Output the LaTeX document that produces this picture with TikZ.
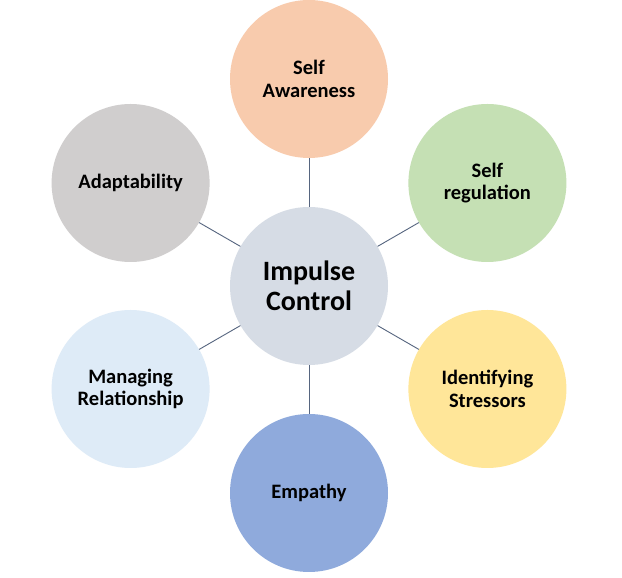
\documentclass[tikz,border=0pt]{standalone}
\usepackage{fontspec}
\setmainfont{Carlito}
\usepackage{xcolor}
\usepackage{tikz}
\usetikzlibrary{positioning}

\definecolor{corefill}{HTML}{D6DCE5}
\definecolor{awarefill}{HTML}{F8CBAD}
\definecolor{regfill}{HTML}{C5E0B4}
\definecolor{stressfill}{HTML}{FFE699}
\definecolor{empfill}{HTML}{8FAADC}
\definecolor{relfill}{HTML}{DEEBF7}
\definecolor{adaptfill}{HTML}{D0CECE}
\definecolor{linkgray}{HTML}{56657F}

\begin{document}
\begin{tikzpicture}[
  bubble/.style={circle, minimum size=158pt, inner sep=0pt, align=center, font=\fontsize{20.5}{22.5}\selectfont\bfseries},
  link/.style={draw=linkgray, line width=0.9pt}
]
  \useasboundingbox[fill=white] (0,0) rectangle (622pt,578pt);
  \node[bubble, fill=corefill, font=\fontsize{28}{30.5}\selectfont\bfseries] (core) at (309pt,292pt) {Impulse\\Control};
  \node[bubble, fill=awarefill] (aware) at ([shift={(90:207pt)}]core) {Self\\Awareness};
  \node[bubble, fill=regfill] (reg) at ([shift={(30:206pt)}]core) {Self\\regulation};
  \node[bubble, fill=stressfill] (stress) at ([shift={(-30:206pt)}]core) {Identifying\\Stressors};
  \node[bubble, fill=empfill] (emp) at ([shift={(-90:207pt)}]core) {Empathy};
  \node[bubble, fill=relfill] (rel) at ([shift={(-150:206pt)}]core) {Managing\\Relationship};
  \node[bubble, fill=adaptfill] (adapt) at ([shift={(150:206pt)}]core) {Adaptability};
  \foreach \n in {aware, reg, stress, emp, rel, adapt}
    \draw[link] (core) -- (\n);
\end{tikzpicture}
\end{document}
